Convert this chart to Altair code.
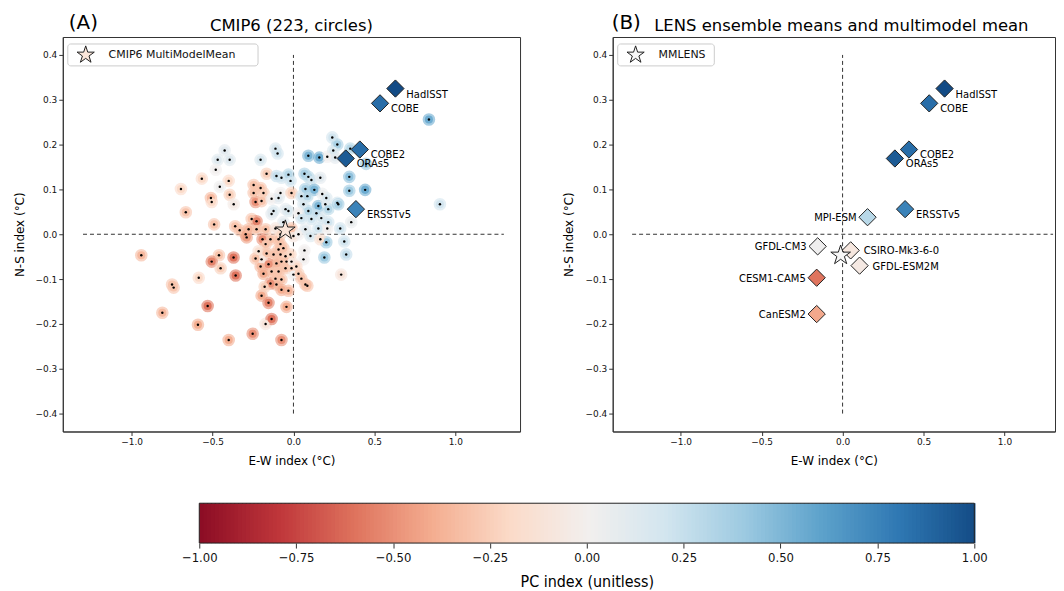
import altair as alt
import pandas as pd
import numpy as np

FONT = "DejaVu Sans"
CFONT = "DejaVu Sans Condensed, Liberation Sans Narrow, DejaVu Sans"
STAR = ("M0,-1L0.2245,-0.309L0.951,-0.309L0.363,0.118L0.588,0.809L0,0.382"
        "L-0.588,0.809L-0.363,0.118L-0.951,-0.309L-0.2245,-0.309Z")

# ---------------- CMIP6 members (E-W index, N-S index, PC index) -------------
cm_x = [-0.425, -0.468, -0.394, -0.480, -0.566, -0.400, -0.455, -0.695, -0.510, -0.505,
        -0.394, -0.369, -0.665, -0.490, -0.360, -0.332, -0.940, -0.460, -0.505, -0.450,
        -0.370, -0.357, -0.585, -0.750, -0.740, -0.810, -0.530, -0.590, -0.400, -0.252,
        -0.172, -0.135, -0.197, -0.154, -0.043, -0.074, -0.111, -0.098, -0.203, 0.092,
        0.160, 0.209, -0.166, -0.105, -0.074, -0.031, -0.018, 0.068, 0.092, 0.111,
        0.166, -0.246, -0.203, -0.185, -0.246, -0.234, -0.197, -0.080, -0.135, -0.092,
        -0.012, 0.074, 0.129, 0.049, 0.086, 0.178, 0.203, 0.154, 0.197, 0.271,
        0.062, 0.092, 0.142, 0.215, -0.049, -0.031, -0.123, -0.135, -0.258, -0.228,
        0.031, 0.049, 0.111, 0.172, 0.215, -0.062, 0.240, 0.271, 0.246, 0.351,
        0.258, 0.449, 0.345, 0.345, 0.443, 0.277, 0.357, 0.837, 0.905, -0.295,
        -0.277, -0.228, -0.172, -0.289, -0.191, -0.142, -0.092, -0.111, -0.080, -0.012,
        0.000, 0.031, 0.074, 0.105, 0.154, 0.209, 0.289, 0.314, 0.203, 0.166,
        0.326, 0.191, 0.068, 0.062, 0.295, -0.172, -0.080, -0.062, -0.215, -0.166,
        -0.123, -0.092, -0.080, -0.049, -0.018, -0.043, -0.074, -0.105, -0.154, -0.203,
        -0.135, -0.185, -0.092, -0.049, -0.012, 0.018, 0.000, 0.031, 0.049, 0.074,
        0.086, -0.012, -0.197, -0.111, -0.074, -0.105, -0.142, -0.178, -0.074, -0.031,
        -0.234]
cm_y = [0.187, 0.166, 0.166, 0.144, 0.124, 0.119, 0.106, 0.101, 0.081, 0.072,
        0.088, 0.067, 0.049, 0.022, 0.018, 0.009, -0.047, -0.047, -0.061, -0.076,
        -0.052, -0.092, -0.097, -0.112, -0.119, -0.175, -0.160, -0.202, -0.236, -0.222,
        -0.200, -0.189, -0.137, -0.153, -0.162, -0.236, 0.191, 0.180, 0.166, 0.175,
        0.171, 0.173, 0.135, 0.130, 0.126, 0.133, 0.119, 0.135, 0.128, 0.121,
        0.126, 0.110, 0.103, 0.092, 0.092, 0.072, 0.074, 0.092, 0.079, 0.081,
        0.092, 0.101, 0.099, 0.085, 0.085, 0.090, 0.081, 0.063, 0.067, 0.070,
        0.067, 0.052, 0.047, 0.056, 0.056, 0.052, 0.052, 0.045, 0.034, 0.029,
        0.047, 0.036, 0.034, 0.036, 0.027, 0.027, 0.216, 0.200, 0.187, 0.191,
        0.171, 0.157, 0.128, 0.097, 0.099, 0.067, 0.027, 0.256, 0.067, 0.000,
        0.011, 0.011, 0.011, -0.007, -0.011, -0.011, -0.011, 0.013, 0.000, 0.013,
        -0.004, 0.000, 0.011, -0.004, 0.013, 0.013, 0.013, -0.016, -0.018, -0.011,
        -0.045, -0.052, -0.036, -0.056, -0.090, -0.022, -0.022, -0.031, -0.038, -0.043,
        -0.045, -0.034, -0.045, -0.049, -0.045, -0.061, -0.061, -0.065, -0.067, -0.072,
        -0.083, -0.088, -0.083, -0.076, -0.076, -0.072, -0.090, -0.088, -0.099, -0.112,
        -0.115, -0.061, -0.056, -0.099, -0.101, -0.112, -0.110, -0.117, -0.124, -0.126,
        -0.054]
cm_pc = [0.10, 0.12, 0.12, 0.00, -0.20, -0.20, 0.02, -0.20, -0.35, -0.20,
         -0.25, -0.05, -0.30, -0.30, -0.30, -0.30, -0.35, -0.30, -0.55, -0.25,
         -0.60, -0.60, -0.20, -0.30, -0.30, -0.35, -0.60, -0.40, -0.40, -0.50,
         -0.10, -0.60, -0.40, -0.55, -0.40, -0.50, 0.15, 0.20, 0.15, 0.50,
         0.55, 0.00, -0.25, 0.25, 0.20, 0.30, 0.20, 0.35, 0.30, 0.20,
         0.10, -0.30, -0.30, -0.25, -0.30, -0.50, -0.30, 0.00, 0.00, 0.10,
         -0.25, 0.35, 0.50, 0.20, 0.30, 0.05, 0.15, 0.50, 0.10, 0.20,
         0.15, 0.30, 0.25, 0.30, 0.10, 0.15, 0.15, 0.10, -0.30, -0.55,
         0.00, 0.20, 0.20, 0.15, 0.20, 0.10, 0.20, 0.35, 0.15, 0.30,
         0.10, 0.40, 0.45, 0.40, 0.55, 0.35, 0.05, 0.55, 0.20, -0.40,
         -0.35, -0.30, -0.30, -0.45, -0.50, -0.30, -0.30, -0.10, -0.20, -0.30,
         -0.10, 0.00, 0.10, 0.15, 0.20, 0.00, 0.20, 0.20, 0.40, -0.15,
         0.25, 0.40, 0.00, 0.00, -0.10, -0.30, -0.30, -0.30, -0.15, -0.30,
         -0.30, -0.30, -0.30, -0.25, -0.20, -0.30, -0.30, -0.35, -0.50, -0.35,
         -0.30, -0.40, -0.30, -0.30, -0.25, -0.20, 0.00, -0.25, -0.30, -0.30,
         -0.30, -0.10, -0.10, -0.30, -0.30, -0.35, -0.50, -0.25, -0.40, -0.35,
         -0.30]

# ---------------- observations -------------------------------------------------
obs_names = ["HadISST", "COBE", "COBE2", "ORAs5", "ERSSTv5"]
obs_x = [0.630, 0.535, 0.410, 0.323, 0.386]
obs_y = [0.325, 0.292, 0.189, 0.169, 0.056]
obs_pc = [1.00, 0.85, 0.85, 0.93, 0.75]

# ---------------- LENS ensemble means -------------------------------------------
lens_names = ["MPI-ESM", "GFDL-CM3", "CSIRO-Mk3-6-0", "GFDL-ESM2M", "CESM1-CAM5", "CanESM2"]
lens_x = [0.154, -0.154, 0.050, 0.105, -0.160, -0.160]
lens_y = [0.038, -0.027, -0.036, -0.070, -0.097, -0.178]
lens_pc = [0.30, 0.02, -0.08, -0.06, -0.60, -0.42]
lens_side = ["left", "left", "right", "right", "left", "left"]

# multimodel means
mmm_cmip6 = (-0.050, 0.009)
mmm_lens = (-0.012, -0.047)

x_ticks = [-1.0, -0.5, 0.0, 0.5, 1.0]
y_ticks = [-0.4, -0.3, -0.2, -0.1, 0.0, 0.1, 0.2, 0.3, 0.4]
cb_ticks = [-1.0, -0.75, -0.5, -0.25, 0.0, 0.25, 0.5, 0.75, 1.0]

cscale = alt.Scale(scheme="redblue", domain=[-1, 1])


def make_panel(xdom, width, title, tag, tag_x, star_label, box_w, star_xy, star_fill,
               extra_layers):
    X = alt.X("x:Q", scale=alt.Scale(domain=xdom, nice=False, zero=False),
              axis=alt.Axis(values=x_ticks, format=".1f", title="E-W index (°C)"))
    Y = alt.Y("y:Q", scale=alt.Scale(domain=[-0.44, 0.44], nice=False, zero=False),
              axis=alt.Axis(values=y_ticks, format=".1f", title="N-S index (°C)"))
    hline = alt.Chart(pd.DataFrame({"x": [-1.3], "x2": [1.3], "y": [0.0]})).mark_rule(
        strokeDash=[4, 3], color="#333", strokeWidth=1).encode(x=X, x2="x2:Q", y=Y)
    vline = alt.Chart(pd.DataFrame({"x": [0.0], "y": [-0.4], "y2": [0.4]})).mark_rule(
        strokeDash=[4, 3], color="#333", strokeWidth=1).encode(x=X, y=Y, y2="y2:Q")
    layers = [hline, vline] + [f(X, Y) for f in extra_layers]
    star = alt.Chart(pd.DataFrame({"x": [star_xy[0]], "y": [star_xy[1]]})).mark_point(
        shape=STAR, filled=True, fill=star_fill, stroke="#222", strokeWidth=1,
        size=430, opacity=1).encode(x=X, y=Y)
    # legend box (drawn as guide decoration)
    leg = pd.DataFrame({"label": [star_label]})
    box = alt.Chart(leg).mark_rect(fill="white", stroke="#cccccc", strokeWidth=1,
                                   cornerRadius=3, opacity=1).encode(
        x=alt.value(5), x2=alt.value(5 + box_w), y=alt.value(7), y2=alt.value(29))
    lsym = alt.Chart(leg).mark_point(shape=STAR, filled=True, fill=star_fill, stroke="#222",
                                     strokeWidth=1, size=330, opacity=1).encode(
        x=alt.value(23), y=alt.value(18))
    ltxt = alt.Chart(leg).mark_text(align="left", baseline="middle", fontSize=11, font=FONT,
                                    color="#111").encode(
        text="label:N", x=alt.value(46), y=alt.value(18))
    heads = pd.DataFrame({"tag": [tag], "title": [title]})
    tagtxt = alt.Chart(heads).mark_text(
        align="left", baseline="middle", fontSize=20, font=FONT, color="black"
    ).encode(text="tag:N", x=alt.value(tag_x), y=alt.value(-14))
    ttl = alt.Chart(heads).mark_text(
        align="center", baseline="middle", fontSize=16.5, font=FONT, color="black"
    ).encode(text="title:N", x=alt.value(229.5), y=alt.value(-11))
    layers += [star, box, lsym, ltxt, tagtxt, ttl]
    return alt.layer(*layers).properties(width=width, height=396)


cm_df = pd.DataFrame({"x": cm_x, "y": cm_y, "pc": cm_pc})
obs_df = pd.DataFrame({"x": obs_x, "y": obs_y, "pc": obs_pc, "name": obs_names})
lens_df = pd.DataFrame({"x": lens_x, "y": lens_y, "pc": lens_pc,
                        "name": lens_names, "side": lens_side})


def halo(X, Y):
    return alt.Chart(cm_df).mark_circle(size=160, opacity=0.6).encode(
        x=X, y=Y, color=alt.Color("pc:Q", scale=cscale, legend=None))


def core(X, Y):
    return alt.Chart(cm_df).mark_circle(size=65, opacity=1).encode(
        x=X, y=Y, color=alt.Color("pc:Q", scale=cscale, legend=None))


def dots(X, Y):
    return alt.Chart(cm_df).mark_circle(size=6, opacity=1, color="black").encode(x=X, y=Y)


def obs_marks(X, Y):
    return alt.Chart(obs_df).mark_point(
        shape="diamond", filled=True, size=300, stroke="#222", strokeWidth=1, opacity=1
    ).encode(x=X, y=Y, fill=alt.Fill("pc:Q", scale=cscale, legend=None))


def obs_text(X, Y):
    return alt.Chart(obs_df).mark_text(
        align="left", baseline="middle", dx=11, dy=6, fontSize=10, font=FONT, color="black"
    ).encode(x=X, y=Y, text="name:N")


def lens_marks(X, Y):
    return alt.Chart(lens_df).mark_point(
        shape="diamond", filled=True, size=300, stroke="#222", strokeWidth=1, opacity=1
    ).encode(x=X, y=Y, fill=alt.Fill("pc:Q", scale=cscale, legend=None))


def lens_text_left(X, Y):
    return alt.Chart(lens_df).transform_filter(alt.datum.side == "left").mark_text(
        align="right", baseline="middle", dx=-11, dy=1, fontSize=10, font=FONT, color="black"
    ).encode(x=X, y=Y, text="name:N")


def lens_text_right(X, Y):
    return alt.Chart(lens_df).transform_filter(alt.datum.side == "right").mark_text(
        align="left", baseline="middle", dx=13, dy=1, fontSize=10, font=FONT, color="black"
    ).encode(x=X, y=Y, text="name:N")


panelA = make_panel([-1.425, 1.40], 459, "CMIP6 (223, circles)", "(A)", 6,
                    "CMIP6 MultiModelMean", 191, mmm_cmip6, "#fbe6da",
                    [halo, core, dots, obs_marks, obs_text])
panelB = make_panel([-1.42, 1.312], 444, "LENS ensemble means and multimodel mean", "(B)", -1,
                    "MMLENS", 97, mmm_lens, "#f7f7f7",
                    [obs_marks, obs_text, lens_marks, lens_text_left, lens_text_right])

top = alt.hconcat(panelA, panelB, spacing=41).resolve_scale(
    fill="independent", color="independent")

# ---------------- colorbar -------------------------------------------------------
cb_v = np.round(np.arange(-1.0, 1.0, 0.01), 2)
cb_df = pd.DataFrame({"v": cb_v, "v2": np.round(cb_v + 0.013, 3)})
CBX = alt.X("v:Q", scale=alt.Scale(domain=[-1.35219, 1.20566], nice=False, zero=False),
            axis=alt.Axis(values=cb_ticks, format=".2f", domain=False, tickSize=5,
                          labelFontSize=13, labelFont=CFONT, labelPadding=4,
                          title="PC index (unitless)", titleFontSize=16, titleFont=CFONT,
                          titleFontWeight="normal", titleX=526, titlePadding=9))
grad = alt.Chart(cb_df).mark_rect().encode(
    x=CBX, x2="v2:Q", color=alt.Color("v:Q", scale=cscale, legend=None))
frame = alt.Chart(pd.DataFrame({"v": [-1.0], "v2": [1.0]})).mark_rect(
    fillOpacity=0, stroke="#222", strokeWidth=1).encode(x=CBX, x2="v2:Q")
cbar = alt.layer(grad, frame).properties(
    width=995, height=40, view=alt.ViewBackground(stroke="transparent"))

chart = alt.vconcat(top, cbar, spacing=35).resolve_scale(color="independent").properties(
    padding={"left": 4, "top": 3, "right": 0, "bottom": 0}
).configure_view(stroke="#333", strokeWidth=1).configure_axis(
    labelFont=FONT, titleFont=FONT, labelFontSize=9, titleFontSize=12,
    titleFontWeight="normal", tickSize=4, tickColor="#333", domainColor="#333",
    labelColor="#111", titleColor="black", grid=False, labelPadding=2, titlePadding=9
)

chart.save("out.html", embed_options={"renderer": "svg", "actions": False})
